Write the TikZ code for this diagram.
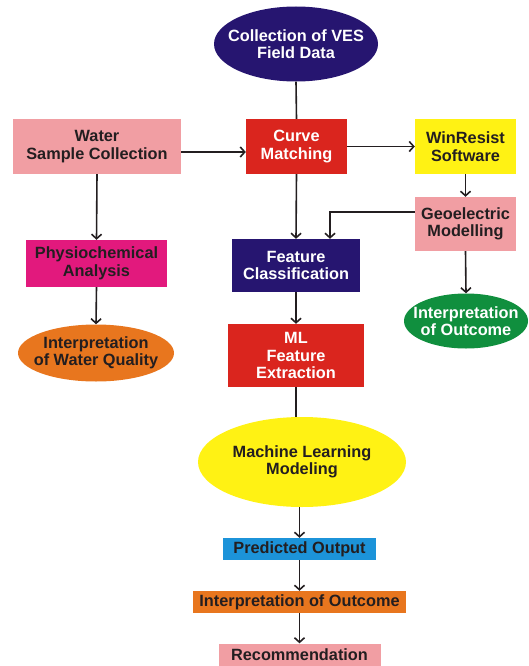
\documentclass[tikz,border=0pt]{standalone}
\usepackage{fontspec}
\setmainfont{Liberation Sans}
\usetikzlibrary{shapes.geometric,arrows.meta}
\definecolor{cnavy}{RGB}{38,21,112}
\definecolor{cred}{RGB}{218,37,30}
\definecolor{cpink}{RGB}{241,158,163}
\definecolor{cyel}{RGB}{255,242,20}
\definecolor{cmag}{RGB}{226,25,125}
\definecolor{corange}{RGB}{232,118,30}
\definecolor{cgreen}{RGB}{16,143,62}
\definecolor{cblue}{RGB}{28,147,217}
\definecolor{ctext}{RGB}{35,30,32}
\begin{document}
\begin{tikzpicture}[x=1pt,y=-1pt,
  every node/.style={font=\fontsize{16.3}{17.5}\selectfont\bfseries, align=center, inner sep=0pt},
  boxs/.style n args={3}{rectangle, fill=#1, text=#2, minimum width=#3},
  ells/.style n args={4}{ellipse, fill=#1, text=#2, minimum width=#3, minimum height=#4, inner sep=-30pt},
  arr/.style={draw=ctext, line width=1.6pt, -{Straight Barb[length=4.5pt,width=10pt]}},
  ln/.style={draw=ctext, line width=1.6pt}]
\useasboundingbox (0,0) rectangle (529,666);

\node[ells={cnavy}{white}{164pt}{75pt}] (ves) at (296,44) {Collection of VES\\Field Data};
\node[boxs={cpink}{ctext}{168pt}, minimum height=55pt] (water) at (97,146.5) {Water\\Sample Collection};
\node[boxs={cred}{white}{101pt}, minimum height=55pt] (curve) at (296.5,146.5) {Curve\\Matching};
\node[boxs={cyel}{ctext}{101pt}, minimum height=55pt] (win) at (465.5,146.5) {WinResist\\Software};
\node[boxs={cpink}{ctext}{101pt}, minimum height=54pt] (geo) at (465.5,224) {Geoelectric\\Modelling};
\node[boxs={cmag}{ctext}{141pt}, minimum height=47pt] (physio) at (96.5,263.5) {Physiochemical\\Analysis};
\node[boxs={cnavy}{white}{128pt}, minimum height=53pt] (feat) at (296,265.5) {Feature\\Classification};
\node[ells={cgreen}{white}{124pt}{55pt}] (outr) at (466,321) {Interpretation\\of Outcome};
\node[ells={corange}{ctext}{156pt}{57pt}] (waterq) at (96,353) {Interpretation\\of Water Quality};
\node[boxs={cred}{white}{136pt}, minimum height=63pt] (mlfe) at (296,355.5) {ML\\Feature\\Extraction};
\node[ells={cyel}{ctext}{208pt}{90pt}] (mlm) at (302,462) {Machine Learning\\Modeling};
\node[boxs={cblue}{ctext}{153pt}, minimum height=22pt] (pred) at (299.5,549) {Predicted Output};
\node[boxs={corange}{ctext}{213pt}, minimum height=22pt] (interp) at (299.5,602) {Interpretation of Outcome};
\node[boxs={cpink}{ctext}{162pt}, minimum height=23pt] (rec) at (299.5,655) {Recommendation};

\draw[ln] (ves.south) -- (curve.north);
\draw[arr] ([yshift=-5.5pt]water.east) -- ([yshift=-5.5pt]curve.west);
\draw[arr] (curve.east) -- (win.west);
\draw[arr] (win.south) -- (geo.north);
\draw[arr] (water.south) -- (physio.north);
\draw[arr] (curve.south) -- (feat.north);
\draw[arr] ([yshift=12pt]geo.west) -| ([xshift=34pt]feat.north);
\draw[arr] (geo.south) -- (outr.north);
\draw[arr] (physio.south) -- (waterq.north);
\draw[arr] (feat.south) -- (mlfe.north);
\draw[ln] (mlfe.south) -- (mlfe.south |- mlm.north);
\draw[arr] (pred.north |- mlm.south) -- (pred.north);
\draw[arr] (pred.south) -- (interp.north);
\draw[arr] (interp.south) -- (rec.north);
\end{tikzpicture}
\end{document}
